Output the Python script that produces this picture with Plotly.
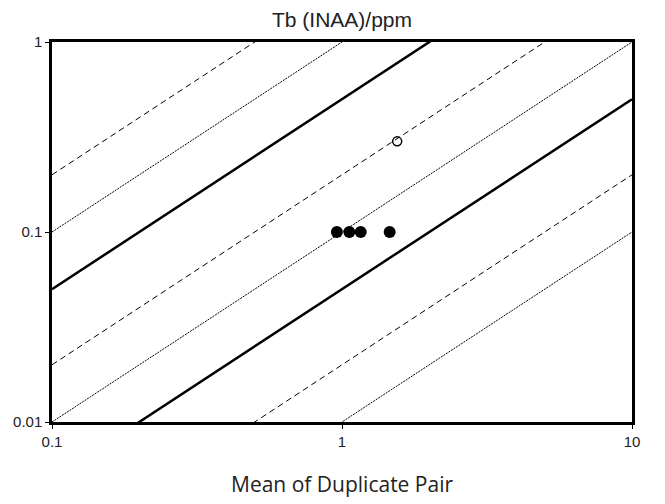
import plotly.graph_objects as go

# Duplicate-pair precision data for Tb (INAA)
mean_filled = [0.96, 1.06, 1.16, 1.46]
diff_filled = [0.1, 0.1, 0.1, 0.1]
mean_open = [1.55]
diff_open = [0.3]

# Precision reference lines: |difference| = slope * mean
ref_slopes = [2, 1, 0.5, 0.2, 0.1, 0.05, 0.02, 0.01]
ref_styles = ["dash", "dot", "solid", "dash", "dot", "solid", "dash", "dot"]
x_range = [0.1, 10]

x_ticks = [0.1, 1, 10]
x_tick_text = ["0.1", "1", "10"]
y_ticks = [0.01, 0.1, 1]
y_tick_text = ["0.01", "0.1", "1"]

fig = go.Figure()

for slope, style in zip(ref_slopes, ref_styles):
    width = 2.5 if style == "solid" else 1
    dash = {"dash": "6px,4px", "dot": "2px,1px", "solid": "solid"}[style]
    fig.add_trace(go.Scatter(
        x=x_range, y=[slope * v for v in x_range], mode="lines",
        line=dict(color="black", width=width, dash=dash),
        hoverinfo="skip", showlegend=False,
    ))

fig.add_trace(go.Scatter(
    x=mean_filled, y=diff_filled, mode="markers",
    marker=dict(symbol="circle", size=12, color="black"),
    showlegend=False,
))
fig.add_trace(go.Scatter(
    x=mean_open, y=diff_open, mode="markers",
    marker=dict(symbol="circle-open", size=9, color="black", line=dict(width=1.5)),
    showlegend=False,
))

axis_common = dict(
    type="log", showgrid=False, zeroline=False,
    showline=True, linecolor="black", linewidth=2.5, mirror=True,
    ticks="outside", ticklen=4, tickcolor="black", tickwidth=1,
    tickfont=dict(family="Arial", size=15, color="#222"),
)

fig.update_xaxes(range=[-1, 1], tickvals=x_ticks, ticktext=x_tick_text, **axis_common)
fig.update_yaxes(range=[-2, 0], tickvals=y_ticks, ticktext=y_tick_text, **axis_common)

fig.add_annotation(
    text="Mean of Duplicate Pair", xref="paper", yref="paper",
    x=0.5, y=-62 / 380, xanchor="center", yanchor="middle", showarrow=False,
    font=dict(family="Open Sans", size=21, color="#222"),
)

fig.update_layout(
    width=665, height=504,
    margin=dict(l=52, r=33, t=42, b=82),
    paper_bgcolor="white", plot_bgcolor="white",
    title=dict(text="Tb (INAA)/ppm", xref="paper", x=0.5, xanchor="center",
               y=1 - 20 / 504, yanchor="middle",
               font=dict(family="Arial", size=21, color="#222")),
)

fig.write_html("out.html")
